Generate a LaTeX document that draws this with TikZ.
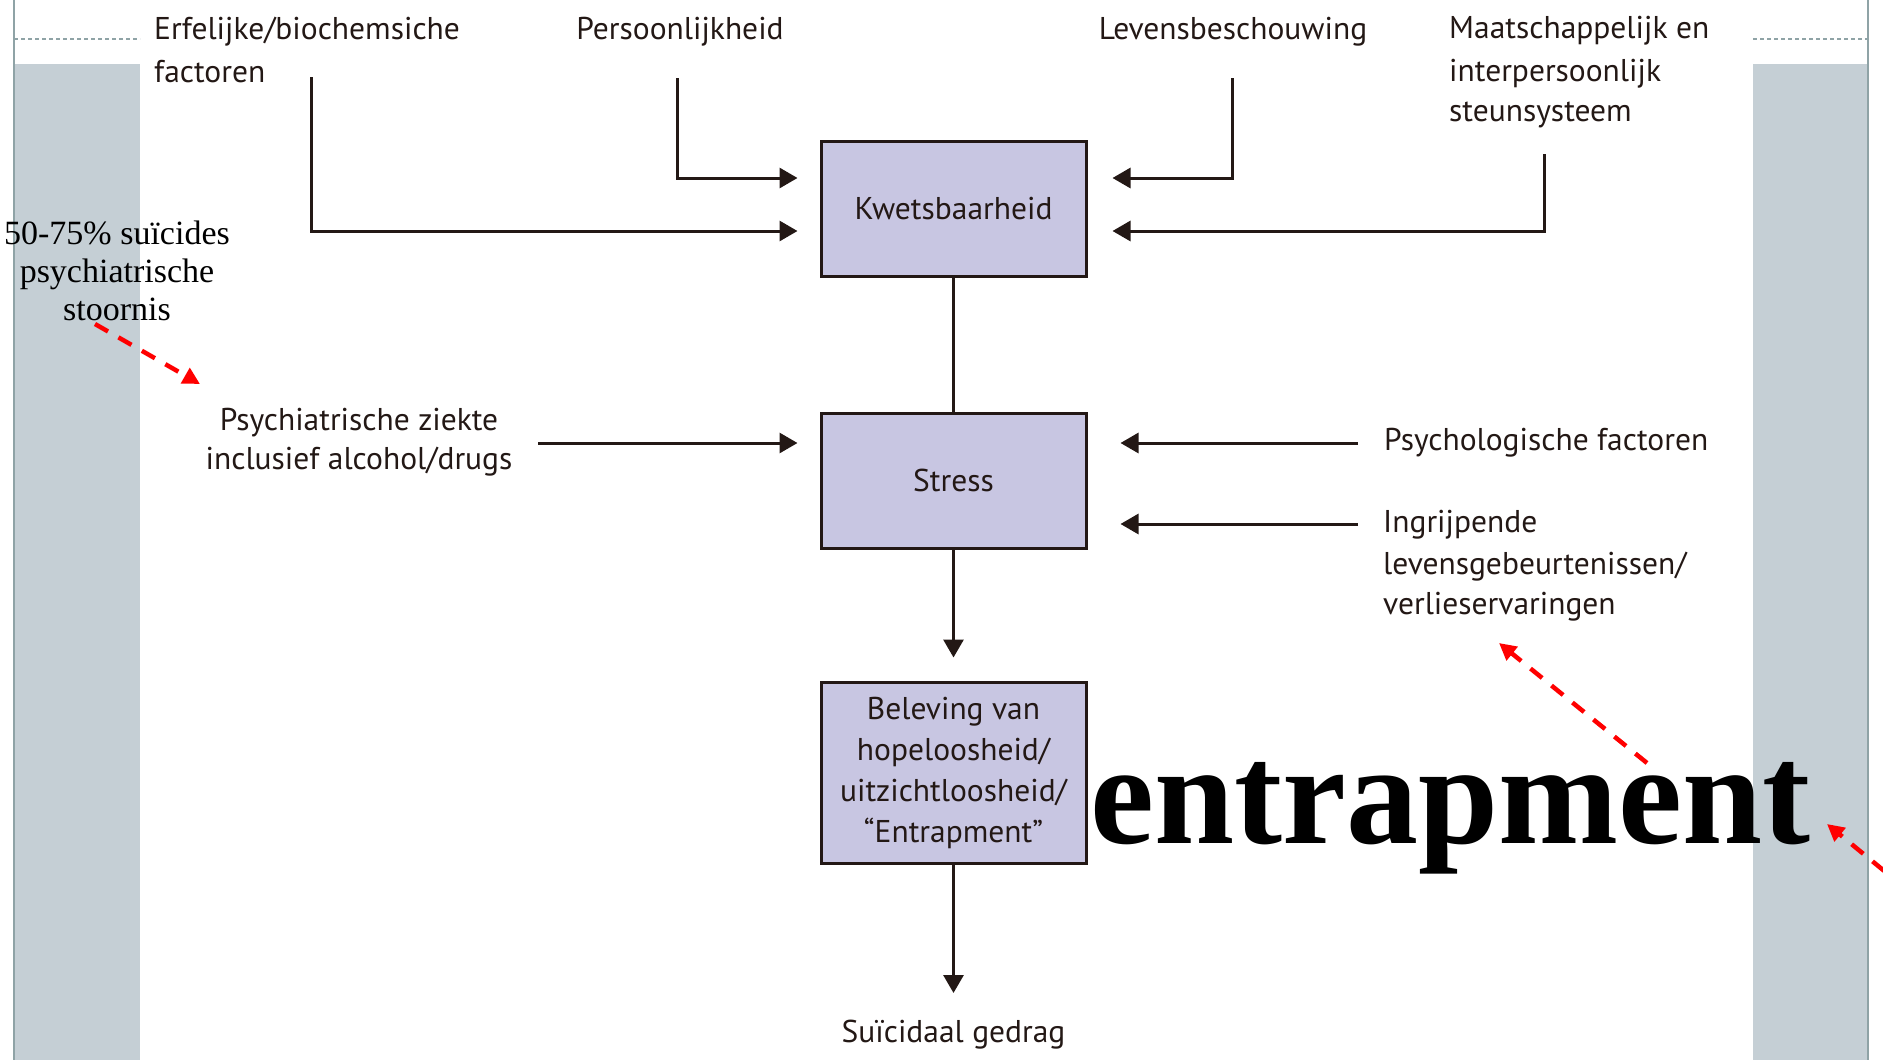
\documentclass[tikz,border=0pt]{standalone}
\usepackage{fontspec}
\setmainfont{PT Sans}
\newfontfamily\serifA{Liberation Serif}
\usetikzlibrary{arrows.meta}
\definecolor{boxfill}{HTML}{C8C6E2}
\definecolor{panel}{HTML}{C5CFD5}
\definecolor{rulec}{HTML}{8FA3A6}
\definecolor{ink}{HTML}{231815}
\definecolor{redarr}{HTML}{FF0000}
\tikzset{
  box/.style={draw=ink, line width=3pt, fill=boxfill, minimum width=265pt, inner sep=0pt, text=ink,
    font=\fontsize{31.5}{41}\selectfont, align=center},
  lbl/.style={inner sep=0pt, text=ink, font=\fontsize{31.5}{43}\selectfont},
  arr/.style={draw=ink, line width=3pt, -{Triangle[length=18pt,width=20pt]}},
  plain/.style={draw=ink, line width=3pt},
  redline/.style={draw=redarr, line width=4.5pt, dash pattern=on 15pt off 12pt, -{Triangle[length=17pt,width=17pt]}},
  serifbox/.style={inner sep=0pt, font=\serifA\fontsize{34}{38}\selectfont, align=center},
  toprule/.style={draw=rulec, line width=2pt, dash pattern=on 4pt off 3pt}
}
\begin{document}
\begin{tikzpicture}[x=1pt,y=-1pt]
\useasboundingbox (0,0) rectangle (1883,1060);
\clip (0,0) rectangle (1883,1060);
% side panels
\fill[panel] (14,64) rectangle (140,1060);
\fill[panel] (1753,64) rectangle (1868,1060);
\draw[rulec, line width=2pt] (14,0) -- (14,1060);
\draw[rulec, line width=2pt] (1868,0) -- (1868,1060);
\draw[toprule] (14,39) -- (140,39);
\draw[toprule] (1753,39) -- (1868,39);

% boxes
\node[box, minimum height=135pt] (kw) at (953.5,208.5) {Kwetsbaarheid};
\node[box, minimum height=135pt] (st) at (953.5,480.5) {Stress};
\node[box, minimum height=181pt] (bel) at (953.5,772.5) {Beleving van\\hopeloosheid/\\uitzichtloosheid/\\“Entrapment”};

% labels (multi-line nodes: base anchor = last line's baseline)
\node[lbl, anchor=base west, align=left] (erf) at (154,82) {Erfelijke/biochemsiche\\factoren};
\node[lbl, anchor=base] (pers) at (680,39) {Persoonlijkheid};
\node[lbl, anchor=base] (lev) at (1233,39) {Levensbeschouwing};
\node[lbl, anchor=base west, align=left] (maat) at (1449,121) {Maatschappelijk en\\interpersoonlijk\\[-3pt]steunsysteem};
\node[lbl, anchor=base, align=center] (psz) at (359,469) {Psychiatrische ziekte\\[-4pt]inclusief alcohol/drugs};
\node[lbl, anchor=base west] (psy) at (1384,450) {Psychologische factoren};
\node[lbl, anchor=base west, align=left] (ingr) at (1383,614) {Ingrijpende\\[-1pt]levensgebeurtenissen/\\[-3pt]verlieservaringen};
\node[lbl, anchor=base] (sg) at (953.5,1042) {Suïcidaal gedrag};
\node[serifbox, anchor=base] (pct) at (117,320) {50-75\% suïcides\\psychiatrische\\stoornis};
\node[inner sep=0pt, anchor=base west, font=\serifA\bfseries\fontsize{144}{144}\selectfont] (ent) at (1090,843) {entrapment};

% connector start points
\coordinate (erfs) at (311,77);
\coordinate (perss) at (677,78);
\coordinate (levs) at (1232,78);
\coordinate (maats) at (1544,154);
\coordinate (pszs) at (538,443);
\coordinate (psys) at (1358,443);
\coordinate (ingrs) at (1358,524);
\coordinate (sgtip) at (953.5,993);

% connectors
\draw[arr, shorten >=22pt] (erfs) |- ([yshift=-22.5pt]kw.west);
\draw[arr, shorten >=22pt] (perss) |- ([yshift=30.5pt]kw.west);
\draw[arr, shorten >=25pt] (levs) |- ([yshift=30.5pt]kw.east);
\draw[arr, shorten >=25pt] (maats) |- ([yshift=-22.5pt]kw.east);
\draw[plain] (kw.south) -- (st.north);
\draw[arr, shorten >=22pt] (pszs) -- ([yshift=37.5pt]st.west);
\draw[arr, shorten >=33pt] (psys) -- ([yshift=37.5pt]st.east);
\draw[arr, shorten >=33pt] (ingrs) -- ([yshift=-43.5pt]st.east);
\draw[arr, shorten >=23pt] (st.south) -- (bel.north);
\draw[arr] (bel.south) -- (sgtip);

% red annotation arrows
\coordinate (r1s) at (95,324);
\coordinate (r1e) at (200,384);
\coordinate (r2s) at (1647,763);
\coordinate (r2e) at (1499,643);
\coordinate (r3s) at (1905,888);
\coordinate (r3e) at (1827,824);
\draw[redline] (r1s) -- (r1e);
\draw[redline] (r2s) -- (r2e);
\draw[redline] (r3s) -- (r3e);
\end{tikzpicture}
\end{document}
